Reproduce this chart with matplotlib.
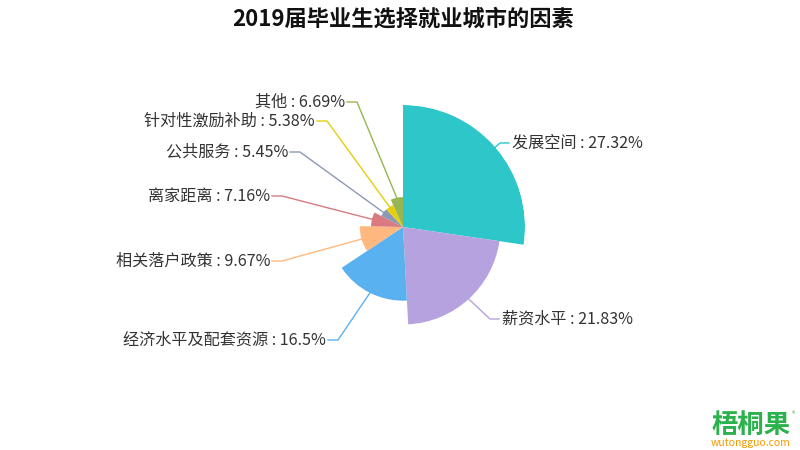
import numpy as np
import matplotlib
matplotlib.use("Agg")
import matplotlib.pyplot as plt

plt.rcParams['font.family'] = ['Noto Sans CJK SC', 'DejaVu Sans']

names = ["发展空间", "薪资水平", "经济水平及配套资源", "相关落户政策",
         "离家距离", "公共服务", "针对性激励补助", "其他"]
values = [27.32, 21.83, 16.5, 9.67, 7.16, 5.45, 5.38, 6.69]
colors = ["#2ec7c9", "#b6a2de", "#5ab1ef", "#ffb980",
          "#d87a80", "#8d98b3", "#e5cf0d", "#97b552"]

# label elbow positions in pixels (x from left, y from top)
elbow_x = [500, 490, 338, 282, 282, 300, 327, 357]
elbow_y = [143, 319, 340, 261, 196, 152, 121, 102]

W, H = 800, 450
cx, cy, R = 403, 227, 122


def main():
    fig = plt.figure(figsize=(8, 4.5), dpi=100)

    ax = fig.add_axes([(cx - R) / W, (H - cy - R) / H, 2 * R / W, 2 * R / H],
                      projection="polar")
    ax.set_theta_zero_location("N")
    ax.set_theta_direction(-1)

    vals = np.array(values)
    widths = vals / vals.sum() * 2 * np.pi
    starts = np.concatenate([[0], np.cumsum(widths)[:-1]])
    mids = starts + widths / 2
    ax.bar(mids, vals, width=widths, bottom=0, color=colors,
           edgecolor="none", align="center")
    ax.set_ylim(0, vals.max())
    ax.axis("off")

    ov = fig.add_axes([0, 0, 1, 1], zorder=-1)
    ov.set_xlim(0, W)
    ov.set_ylim(H, 0)
    ov.axis("off")

    for i in range(len(names)):
        px, py = ax.transData.transform((mids[i], vals[i]))
        py = H - py
        ex, ey = elbow_x[i], elbow_y[i]
        right = ex > cx
        hx = ex + 9 if right else ex - 10
        ov.plot([px, ex, hx], [py, ey, ey], color=colors[i], lw=1)
        tx = hx + 3 if right else hx - 2
        ov.text(tx, ey, f"{names[i]} : {values[i]:g}%", fontsize=11.6,
                color="#333333", ha="left" if right else "right",
                va="center")

    fig.text(403 / W, 1 - 19 / H, "2019届毕业生选择就业城市的因素",
             fontsize=16, fontweight="bold", color="#111111",
             ha="center", va="center")

    # logo
    fig.text(751 / W, 1 - 425 / H, "梧桐果", fontsize=19, fontweight="bold",
             color="#2bb24c", ha="center", va="center")
    fig.text(793 / W, 1 - 414 / H, "®", fontsize=5, color="#2bb24c",
             ha="center", va="center")
    fig.text(751 / W, 1 - 443 / H, "wutongguo.com", fontsize=7.5,
             color="#f39800", ha="center", va="center")

    fig.savefig("out.png", dpi=100)
    plt.close(fig)


if __name__ == "__main__":
    main()
